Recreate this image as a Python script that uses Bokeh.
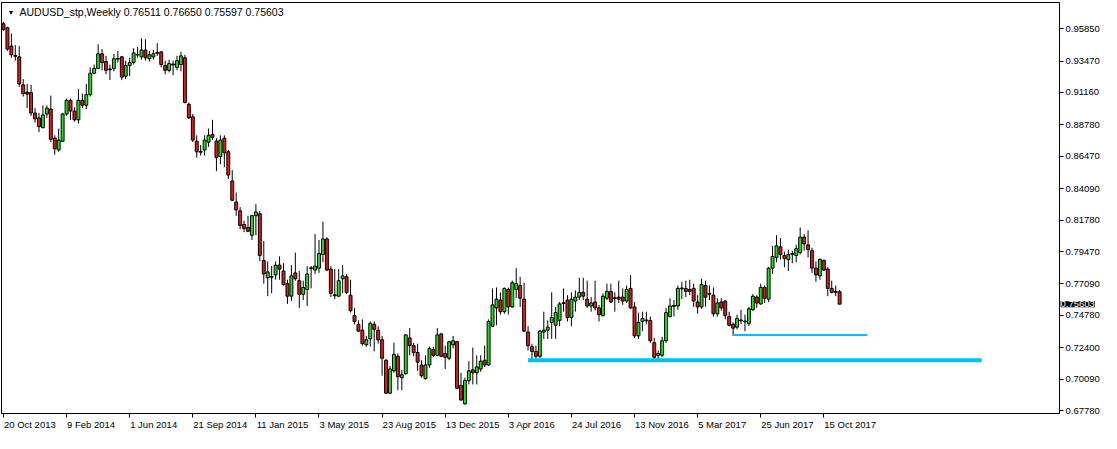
from bokeh.plotting import figure
from bokeh.models import Range1d, FixedTicker, PrintfTickFormatter, Label, ColumnDataSource
from bokeh.embed import file_html
from bokeh.resources import INLINE

# ---------------- data (weekly AUDUSD, 20 Oct 2013 .. 12 Nov 2017) ----------------
opens = [0.9621, 0.9592, 0.9457, 0.9388, 0.9378, 0.9172, 0.9118, 0.9115, 0.8965, 0.8929,
         0.8858, 0.8958, 0.8994, 0.8780, 0.8694, 0.8758, 0.8958, 0.9058, 0.8979, 0.8915,
         0.9058, 0.9022, 0.9100, 0.9257, 0.9293, 0.9400, 0.9343, 0.9283, 0.9293, 0.9361,
         0.9378, 0.9236, 0.9314, 0.9336, 0.9395, 0.9378, 0.9428, 0.9364, 0.9378, 0.9404,
         0.9414, 0.9314, 0.9279, 0.9325, 0.9300, 0.9321, 0.9371, 0.9029, 0.8937, 0.8758,
         0.8683, 0.8694, 0.8751, 0.8808, 0.8758, 0.8645, 0.8780, 0.8680, 0.8466, 0.8310,
         0.8246, 0.8146, 0.8124, 0.8067, 0.8210, 0.8224, 0.7882, 0.7754, 0.7758, 0.7775,
         0.7847, 0.7804, 0.7711, 0.7619, 0.7790, 0.7733, 0.7633, 0.7668, 0.7822, 0.7811,
         0.7825, 0.7925, 0.8039, 0.7818, 0.7629, 0.7619, 0.7747, 0.7761, 0.7626, 0.7476,
         0.7412, 0.7369, 0.7262, 0.7305, 0.7412, 0.7369, 0.7298, 0.7148, 0.6906, 0.7070,
         0.7177, 0.7020, 0.7049, 0.7312, 0.7255, 0.7205, 0.7113, 0.7013, 0.7113, 0.7227,
         0.7184, 0.7341, 0.7198, 0.7163, 0.7262, 0.7284, 0.6963, 0.6828, 0.6999, 0.7077,
         0.7056, 0.7084, 0.7148, 0.7113, 0.7398, 0.7533, 0.7590, 0.7505, 0.7668, 0.7540,
         0.7668, 0.7697, 0.7597, 0.7355, 0.7248, 0.7213, 0.7177, 0.7355, 0.7369, 0.7426,
         0.7405, 0.7441, 0.7565, 0.7590, 0.7462, 0.7583, 0.7612, 0.7647, 0.7597, 0.7547,
         0.7576, 0.7533, 0.7476, 0.7604, 0.7654, 0.7601, 0.7612, 0.7612, 0.7583, 0.7676,
         0.7540, 0.7327, 0.7433, 0.7438, 0.7441, 0.7277, 0.7184, 0.7184, 0.7291, 0.7469,
         0.7544, 0.7547, 0.7673, 0.7676, 0.7668, 0.7676, 0.7576, 0.7540, 0.7697, 0.7633,
         0.7626, 0.7490, 0.7576, 0.7583, 0.7469, 0.7412, 0.7391, 0.7438, 0.7430, 0.7419,
         0.7519, 0.7612, 0.7562, 0.7683, 0.7597, 0.7825, 0.7904, 0.7982, 0.7918, 0.7889,
         0.7927, 0.7918, 0.7939, 0.8053, 0.7996, 0.7953, 0.7825, 0.7768, 0.7882, 0.7818,
         0.7676, 0.7654, 0.76511]
highs = [0.9635, 0.9599, 0.9549, 0.9464, 0.9457, 0.9214, 0.9179, 0.9172, 0.9001, 0.8965,
         0.9022, 0.9022, 0.9093, 0.8801, 0.8851, 0.8965, 0.9072, 0.9072, 0.9008, 0.9143,
         0.9108, 0.9179, 0.9300, 0.9321, 0.9471, 0.9435, 0.9385, 0.9321, 0.9400, 0.9421,
         0.9385, 0.9350, 0.9371, 0.9442, 0.9450, 0.9514, 0.9507, 0.9421, 0.9428, 0.9478,
         0.9421, 0.9350, 0.9357, 0.9350, 0.9385, 0.9414, 0.9393, 0.9043, 0.8958, 0.8801,
         0.8730, 0.8801, 0.8851, 0.8915, 0.8780, 0.8801, 0.8801, 0.8694, 0.8545, 0.8381,
         0.8274, 0.8174, 0.8210, 0.8217, 0.8295, 0.8246, 0.8025, 0.7875, 0.7840, 0.7875,
         0.7911, 0.7861, 0.7740, 0.7847, 0.7939, 0.7804, 0.7733, 0.7840, 0.7840, 0.8075,
         0.8032, 0.8167, 0.8053, 0.7840, 0.7818, 0.7818, 0.7847, 0.7782, 0.7740, 0.7533,
         0.7441, 0.7448, 0.7327, 0.7433, 0.7433, 0.7398, 0.7327, 0.7156, 0.7106, 0.7277,
         0.7198, 0.7077, 0.7341, 0.7384, 0.7277, 0.7270, 0.7148, 0.7184, 0.7248, 0.7248,
         0.7384, 0.7348, 0.7255, 0.7291, 0.7327, 0.7291, 0.7056, 0.7020, 0.7141, 0.7241,
         0.7184, 0.7184, 0.7255, 0.7448, 0.7676, 0.7683, 0.7647, 0.7683, 0.7683, 0.7733,
         0.7825, 0.7761, 0.7718, 0.7398, 0.7270, 0.7255, 0.7369, 0.7505, 0.7441, 0.7647,
         0.7540, 0.7576, 0.7676, 0.7626, 0.7647, 0.7661, 0.7754, 0.7754, 0.7733, 0.7612,
         0.7733, 0.7555, 0.7640, 0.7711, 0.7711, 0.7647, 0.7733, 0.7676, 0.7697, 0.7775,
         0.7576, 0.7498, 0.7505, 0.7505, 0.7469, 0.7312, 0.7220, 0.7320, 0.7533, 0.7604,
         0.7590, 0.7697, 0.7725, 0.7733, 0.7740, 0.7711, 0.7626, 0.7747, 0.7733, 0.7697,
         0.7683, 0.7604, 0.7604, 0.7590, 0.7505, 0.7426, 0.7483, 0.7519, 0.7483, 0.7540,
         0.7633, 0.7626, 0.7711, 0.7697, 0.7832, 0.7989, 0.8067, 0.8046, 0.7946, 0.7961,
         0.7953, 0.7996, 0.8124, 0.8075, 0.8103, 0.7975, 0.7875, 0.7896, 0.7889, 0.7832,
         0.7733, 0.7697, 0.76650]
lows = [0.9571, 0.9421, 0.9371, 0.9350, 0.9157, 0.9086, 0.9001, 0.8944, 0.8894, 0.8823,
        0.8851, 0.8929, 0.8751, 0.8659, 0.8680, 0.8751, 0.8944, 0.8915, 0.8901, 0.8887,
        0.9001, 0.8994, 0.9086, 0.9250, 0.9286, 0.9279, 0.9250, 0.9207, 0.9271, 0.9336,
        0.9207, 0.9214, 0.9236, 0.9321, 0.9371, 0.9357, 0.9350, 0.9343, 0.9357, 0.9385,
        0.9300, 0.9250, 0.9264, 0.9243, 0.9279, 0.9271, 0.9036, 0.8922, 0.8751, 0.8637,
        0.8652, 0.8652, 0.8716, 0.8766, 0.8538, 0.8588, 0.8566, 0.8481, 0.8317, 0.8210,
        0.8110, 0.8089, 0.8089, 0.8032, 0.8067, 0.7875, 0.7711, 0.7619, 0.7640, 0.7740,
        0.7740, 0.7697, 0.7562, 0.7583, 0.7733, 0.7533, 0.7590, 0.7547, 0.7676, 0.7782,
        0.7790, 0.7868, 0.7804, 0.7612, 0.7597, 0.7612, 0.7640, 0.7633, 0.7498, 0.7412,
        0.7355, 0.7255, 0.7248, 0.7248, 0.7213, 0.7270, 0.7034, 0.6899, 0.6899, 0.7056,
        0.6928, 0.6928, 0.7042, 0.7184, 0.7177, 0.7070, 0.7020, 0.7006, 0.7091, 0.7170,
        0.7177, 0.7170, 0.7084, 0.7148, 0.7234, 0.6935, 0.6849, 0.6821, 0.6970, 0.6970,
        0.6970, 0.7063, 0.7099, 0.7106, 0.7391, 0.7405, 0.7483, 0.7490, 0.7483, 0.7533,
        0.7604, 0.7540, 0.7355, 0.7220, 0.7156, 0.7141, 0.7163, 0.7305, 0.7305, 0.7305,
        0.7305, 0.7398, 0.7505, 0.7433, 0.7398, 0.7505, 0.7590, 0.7590, 0.7533, 0.7505,
        0.7512, 0.7433, 0.7469, 0.7590, 0.7569, 0.7505, 0.7569, 0.7555, 0.7569, 0.7526,
        0.7312, 0.7305, 0.7362, 0.7412, 0.7277, 0.7156, 0.7148, 0.7170, 0.7277, 0.7462,
        0.7469, 0.7519, 0.7597, 0.7612, 0.7626, 0.7540, 0.7490, 0.7526, 0.7540, 0.7590,
        0.7469, 0.7469, 0.7512, 0.7448, 0.7398, 0.7327, 0.7376, 0.7412, 0.7362, 0.7400,
        0.7512, 0.7533, 0.7555, 0.7569, 0.7576, 0.7782, 0.7868, 0.7889, 0.7832, 0.7804,
        0.7861, 0.7868, 0.7925, 0.7953, 0.7904, 0.7790, 0.7725, 0.7740, 0.7804, 0.7619,
        0.7640, 0.7619, 0.75597]
closes = [0.9578, 0.9435, 0.9393, 0.9382, 0.9179, 0.9108, 0.9104, 0.8965, 0.8922, 0.8865,
          0.8951, 0.9001, 0.8773, 0.8702, 0.8766, 0.8958, 0.9058, 0.8979, 0.8915, 0.9058,
          0.9022, 0.9100, 0.9257, 0.9293, 0.9400, 0.9336, 0.9279, 0.9289, 0.9364, 0.9366,
          0.9229, 0.9314, 0.9336, 0.9407, 0.9391, 0.9428, 0.9371, 0.9393, 0.9400, 0.9410,
          0.9321, 0.9279, 0.9328, 0.9318, 0.9350, 0.9385, 0.9043, 0.8929, 0.8766, 0.8680,
          0.8677, 0.8766, 0.8801, 0.8787, 0.8637, 0.8766, 0.8673, 0.8509, 0.8324, 0.8253,
          0.8139, 0.8117, 0.8096, 0.8210, 0.8238, 0.7918, 0.7782, 0.7797, 0.7764, 0.7847,
          0.7818, 0.7704, 0.7619, 0.7768, 0.7747, 0.7633, 0.7683, 0.7782, 0.7828, 0.7840,
          0.7932, 0.8039, 0.7811, 0.7640, 0.7622, 0.7733, 0.7768, 0.7647, 0.7512, 0.7433,
          0.7362, 0.7270, 0.7298, 0.7419, 0.7376, 0.7298, 0.7163, 0.6906, 0.7084, 0.7191,
          0.7027, 0.7042, 0.7334, 0.7255, 0.7205, 0.7134, 0.7034, 0.7113, 0.7234, 0.7184,
          0.7334, 0.7177, 0.7170, 0.7284, 0.7291, 0.6942, 0.6856, 0.6999, 0.7070, 0.7056,
          0.7099, 0.7141, 0.7113, 0.7433, 0.7555, 0.7597, 0.7505, 0.7676, 0.7540, 0.7718,
          0.7711, 0.7604, 0.7362, 0.7255, 0.7213, 0.7177, 0.7362, 0.7369, 0.7391, 0.7462,
          0.7498, 0.7562, 0.7571, 0.7462, 0.7597, 0.7612, 0.7647, 0.7619, 0.7547, 0.7569,
          0.7533, 0.7483, 0.7619, 0.7654, 0.7576, 0.7608, 0.7597, 0.7583, 0.7668, 0.7533,
          0.7327, 0.7426, 0.7455, 0.7444, 0.7291, 0.7170, 0.7198, 0.7291, 0.7498, 0.7547,
          0.7551, 0.7676, 0.7679, 0.7654, 0.7654, 0.7583, 0.7540, 0.7704, 0.7612, 0.7640,
          0.7490, 0.7569, 0.7533, 0.7476, 0.7405, 0.7384, 0.7455, 0.7444, 0.7436, 0.7526,
          0.7619, 0.7569, 0.7683, 0.7604, 0.7825, 0.7911, 0.7989, 0.7925, 0.7896, 0.7925,
          0.7932, 0.7968, 0.8053, 0.8003, 0.7961, 0.7825, 0.7775, 0.7889, 0.7811, 0.7676,
          0.7647, 0.7647, 0.75603]

date_labels = ["20 Oct 2013", "9 Feb 2014", "1 Jun 2014", "21 Sep 2014", "11 Jan 2015",
               "3 May 2015", "23 Aug 2015", "13 Dec 2015", "3 Apr 2016", "24 Jul 2016",
               "13 Nov 2016", "5 Mar 2017", "25 Jun 2017", "15 Oct 2017"]
bars_per_label = 16

price_ticks = [0.67780, 0.70090, 0.72400, 0.74780, 0.77090, 0.79470, 0.81780,
               0.84090, 0.86470, 0.88780, 0.91160, 0.93470, 0.95850]

# horizontal support lines drawn on the chart: price, first bar, last bar
support_price = [0.7148, 0.7334]
support_from = [133, 185]
support_to = [248, 219]

symbol_title = "AUDUSD_stp,Weekly  0.76511 0.76650 0.75597 0.75603"
last_price = 0.75603

# ---------------- styling ----------------
FONT = "Liberation Sans"
FS = "9.5px"
BULL = "#22DD22"
BEAR = "#E01B1B"
LINE_COL = "#00BFFF"
support_width = [4, 2]

X0, X1 = -0.5, 267.75
Y0, Y1 = 0.67566, 0.97773
FW, FH = 1058, 411

n = len(opens)
idx = list(range(n))
body_top = [max(o, c) for o, c in zip(opens, closes)]
body_bot = [min(o, c) for o, c in zip(opens, closes)]
fills = [BULL if c >= o else BEAR for o, c in zip(opens, closes)]

src = ColumnDataSource(dict(x=idx, o=opens, h=highs, l=lows, c=closes,
                            top=body_top, bot=body_bot, fill=fills))

p = figure(frame_width=FW, frame_height=FH,
           x_range=Range1d(X0, X1), y_range=Range1d(Y0, Y1),
           output_backend="svg", toolbar_location=None, y_axis_location="right",
           min_border_left=1, min_border_top=2, min_border_right=0, min_border_bottom=1,
           background_fill_color="white", border_fill_color="white")
p.xgrid.visible = False
p.ygrid.visible = False
p.outline_line_color = "black"
p.outline_line_width = 1
p.outline_line_alpha = 1.0

# wicks and bodies
p.segment(x0="x", y0="l", x1="x", y1="h", source=src, line_color="black", line_width=1)
p.vbar(x="x", width=0.74, top="top", bottom="bot", source=src,
       fill_color="fill", line_color="black", line_width=1)

# support lines
p.segment(x0=support_from, y0=support_price, x1=support_to, y1=support_price,
          line_color=LINE_COL, line_width=support_width, line_cap="butt")

# price axis (right)
ya = p.yaxis[0]
ya.ticker = FixedTicker(ticks=price_ticks)
ya.formatter = PrintfTickFormatter(format="%.5f")
ya.major_tick_out = 4
ya.major_tick_in = 0
ya.minor_tick_out = 0
ya.minor_tick_in = 0
ya.major_label_standoff = 2
ya.major_label_text_font = FONT
ya.major_label_text_font_size = FS
ya.major_label_text_color = "black"
ya.axis_line_color = "black"
ya.major_tick_line_color = "black"

# time axis: tick marks at the bars (minor ticks), labels left-aligned from them
label_bars = [k * bars_per_label for k in range(len(date_labels))]
CW = {" ": 0.278, "O": 0.778, "c": 0.5, "t": 0.278, "F": 0.611, "e": 0.556, "b": 0.556,
      "J": 0.5, "u": 0.556, "n": 0.556, "S": 0.667, "p": 0.556, "a": 0.556, "M": 0.833,
      "y": 0.5, "A": 0.667, "g": 0.556, "D": 0.722, "N": 0.722, "o": 0.556, "v": 0.5,
      "r": 0.333, "l": 0.222}
fs_px = float(FS.replace("px", ""))
ppb = FW / (X1 - X0)
lab_pos = []
overrides = {}
for b, t in zip(label_bars, date_labels):
    w = sum(CW.get(ch, 0.556) for ch in t) * fs_px
    pos = round(b + (w / 2 + 0.5) / ppb, 3)
    lab_pos.append(pos)
    overrides[pos] = t

xa = p.xaxis[0]
xa.ticker = FixedTicker(ticks=lab_pos, minor_ticks=label_bars)
xa.major_label_overrides = overrides
xa.major_tick_line_color = None
xa.major_tick_out = 4
xa.major_tick_in = 0
xa.minor_tick_line_color = "black"
xa.minor_tick_out = 4
xa.minor_tick_in = 0
xa.major_label_standoff = 1
xa.major_label_text_font = FONT
xa.major_label_text_font_size = FS
xa.major_label_text_color = "black"
xa.axis_line_color = "black"

# chart caption
p.add_layout(Label(x=X0, y=Y1, x_offset=6, y_offset=-6, text="\u25BC",
                   text_font=FONT, text_font_size="7px", text_color="black",
                   text_baseline="top", text_align="left"))
p.add_layout(Label(x=X0, y=Y1, x_offset=18, y_offset=-3, text=symbol_title,
                   text_font=FONT, text_font_size="10.5px", text_color="black",
                   text_baseline="top", text_align="left"))

# current price tag on the price scale (side panel so it is not clipped to the frame)
p.add_layout(Label(x=X1, y=last_price, x_offset=1, text=f"{last_price:.5f}",
                   text_font=FONT, text_font_size=FS, text_color="white",
                   background_fill_color="black", text_baseline="middle",
                   text_align="left"), "right")

open("out.html", "w").write(file_html(p, INLINE))
